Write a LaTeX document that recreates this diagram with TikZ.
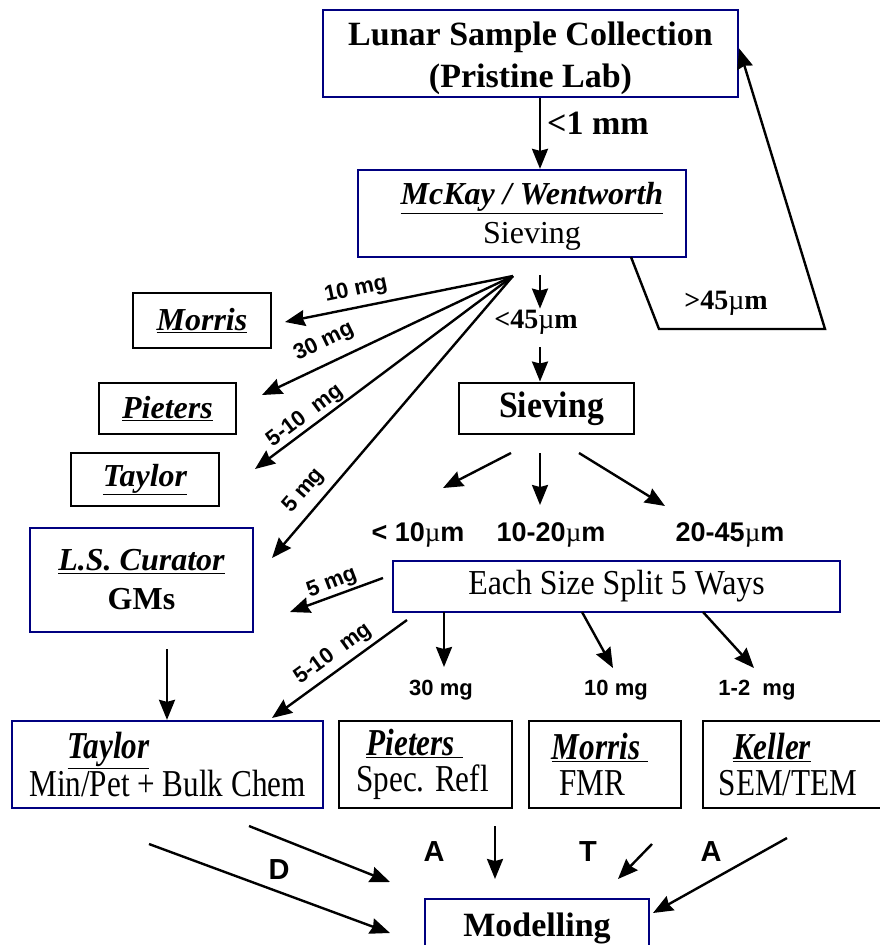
\documentclass[tikz,border=0pt]{standalone}
\usepackage{fontspec}
\setmainfont{Liberation Serif}
\setsansfont{Liberation Sans}
\newfontfamily\narrowserif[FakeStretch=0.82]{Liberation Serif}
\newfontfamily\snugserif[FakeStretch=0.91]{Liberation Serif}
\usepackage{xcolor}
\usepackage{tikz}
\usetikzlibrary{arrows.meta,positioning}
\definecolor{LabNavy}{HTML}{000080}
\definecolor{LabInk}{HTML}{000000}
\newcommand{\who}[1]{\textbf{\textit{\underline{#1}}}}
\newcommand{\um}{{\rmfamily\mdseries µ}m}
\tikzset{
  labbox/.style={draw=LabNavy,line width=2.3pt,inner sep=0pt,align=center,fill=white,font=\fontsize{32}{39}\selectfont},
  inkbox/.style={labbox,draw=LabInk,line width=2.9pt},
  rowtext/.style={minimum height=87pt,font=\narrowserif\fontsize{38}{36}\selectfont},
  flowarrow/.style={-{Stealth[length=20pt,width=16pt,inset=2pt]},line width=2.4pt,draw=LabInk},
  masslabel/.style={font=\sffamily\bfseries\fontsize{22}{24}\selectfont,inner sep=0pt},
  sizelabel/.style={font=\sffamily\bfseries\fontsize{27}{30}\selectfont,inner sep=1pt},
  cutlabel/.style={font=\bfseries\fontsize{28}{32}\selectfont,inner sep=1pt},
  routelabel/.style={font=\sffamily\bfseries\fontsize{29}{30}\selectfont,inner sep=1pt}
}

\begin{document}
\begin{tikzpicture}[x=1pt,y=-1pt]
\useasboundingbox[fill=white] (0,0) rectangle (880,945);
\node[labbox,minimum width=415pt,minimum height=87pt,font=\bfseries\fontsize{34}{42}\selectfont] (lunar) at (530.5,53.5) {\rule{0pt}{33pt}Lunar Sample Collection\\(Pristine Lab)};
\node[labbox,minimum width=328pt,minimum height=87pt] (mckay) at (522,213.5) {\rule{0pt}{28pt}\hspace*{20pt}\who{McKay / Wentworth}\\\hspace*{20pt}Sieving};
\draw[flowarrow] ([xshift=9.5pt]lunar.south) -- ([xshift=9.5pt]lunar.south |- mckay.north);
\node[cutlabel,font=\bfseries\fontsize{34}{36}\selectfont,anchor=west] (onemm) at (546,123) {<1 mm};
\coordinate (loopout) at (631,257);
\coordinate (loopfoot) at (659,329);
\coordinate (loopturn) at (825,329);
\draw[flowarrow] (loopout) -- (loopfoot) -- (loopturn) -- ([yshift=5pt]lunar.east);
\node[cutlabel] (gt45) at (726,303) {>45\um};
\node[inkbox,minimum width=138pt,minimum height=55pt] (morris) at (202,320.5) {\who{Morris}};
\node[inkbox,minimum width=137pt,minimum height=51pt] (pieters) at (167.5,408.5) {\who{Pieters}};
\node[inkbox,minimum width=148pt,minimum height=53pt] (taylor) at (145,479.5) {\who{Taylor}};
\node[labbox,minimum width=223pt,minimum height=104pt] (curator) at (141.5,580) {\who{L.S. Curator}\\\textbf{GMs}};
\coordinate (fan) at (513,276);
\coordinate (toMorris) at (285,322);
\coordinate (toPieters) at (262,395);
\coordinate (toTaylor) at (255,469);
\coordinate (toCurator) at (272,558);
\draw[flowarrow] (fan) -- (toMorris);
\draw[flowarrow] (fan) -- (toPieters);
\draw[flowarrow] (fan) -- (toTaylor);
\draw[flowarrow] (fan) -- (toCurator);
\node[masslabel,rotate=12] (w10) at (356,290) {10 mg};
\node[masslabel,rotate=26] (w30) at (324,342) {30 mg};
\node[masslabel,rotate=37] (w510) at (305,416) {5-10\ \ mg};
\node[masslabel,rotate=49] (w5) at (304,491) {5 mg};
\coordinate (below) at (540,275);
\node[cutlabel] (lt45) at (536,322) {<45\um};
\node[inkbox,minimum width=175pt,minimum height=51pt,font=\snugserif\bfseries\fontsize{37}{38}\selectfont] (sieve) at (546.5,408.5) {\hspace*{10pt}Sieving};
\draw[flowarrow] (below) -- (below |- lt45.north);
\draw[flowarrow,shorten <=12pt] (below |- lt45.south) -- (below |- sieve.north);
\coordinate (sieveL) at (511,453);
\coordinate (sieveM) at (540,453);
\coordinate (sieveR) at (579,453);
\coordinate (toFine) at (443,488);
\coordinate (toMid) at (540,505);
\coordinate (toCoarse) at (665,506);
\draw[flowarrow] (sieveL) -- (toFine);
\draw[flowarrow] (sieveM) -- (toMid);
\draw[flowarrow] (sieveR) -- (toCoarse);
\node[sizelabel] (fine) at (418,535) {< 10\um};
\node[sizelabel] (mid) at (551,535) {10-20\um};
\node[sizelabel] (coarse) at (730,535) {20-45\um};
\node[labbox,minimum width=447pt,minimum height=51pt,font=\snugserif\fontsize{35}{38}\selectfont] (split) at (616.5,586.5) {Each Size Split 5 Ways};
\coordinate (splitA) at (383,578);
\coordinate (toGM) at (290,612);
\coordinate (splitB) at (407,620);
\coordinate (toChem) at (272,718);
\coordinate (splitC) at (444,612);
\coordinate (toSpec) at (444,667);
\coordinate (splitD) at (582,612);
\coordinate (toFmr) at (613,668);
\coordinate (splitE) at (703,612);
\coordinate (toSem) at (754,668);
\draw[flowarrow] (splitA) -- (toGM);
\draw[flowarrow] (splitB) -- (toChem);
\draw[flowarrow] (splitC) -- (toSpec);
\draw[flowarrow] (splitD) -- (toFmr);
\draw[flowarrow] (splitE) -- (toSem);
\node[masslabel,rotate=21] (g5) at (332,583) {5 mg};
\node[masslabel,rotate=36] (g510) at (333,654) {5-10\ \ mg};
\node[masslabel] (m30) at (441,690) {30 mg};
\node[masslabel] (m10) at (616,690) {10 mg};
\node[masslabel] (m12) at (757,690) {1-2\ \ mg};
\node[labbox,rowtext,minimum width=311pt] (chem) at (167.5,764.5) {\who{Taylor}\hspace*{118pt}\\Min/Pet + Bulk Chem};
\node[inkbox,rowtext,minimum width=173pt] (spec) at (425.5,764.5) {\who{Pieters\ }\hspace*{22pt}\\Spec. Refl\hspace*{6pt}};
\node[inkbox,rowtext,minimum width=152pt] (fmr) at (605,764.5) {\who{Morris\ }\hspace*{10pt}\\FMR\hspace*{26pt}};
\node[inkbox,rowtext,minimum width=182pt] (sem) at (794,764.5) {\who{Keller}\hspace*{44pt}\\SEM/TEM\hspace*{12pt}};
\coordinate (gmsout) at (167,649);
\draw[flowarrow] (gmsout) -- (gmsout |- chem.north);
\node[labbox,anchor=north,minimum width=224pt,inner ysep=13pt,text height=24pt,text depth=7pt,font=\bfseries\fontsize{34}{36}\selectfont] (model) at (537,898) {Modelling};
\coordinate (outD) at (149,844);
\coordinate (inD) at (390,933);
\coordinate (outA) at (249,826);
\coordinate (inA) at (390,882);
\coordinate (outP) at (495,826);
\coordinate (inP) at (495,879);
\coordinate (outT) at (652,844);
\coordinate (inT) at (618,879);
\coordinate (outK) at (787,838);
\coordinate (inK) at (653,913);
\draw[flowarrow] (outD) -- (inD);
\draw[flowarrow] (outA) -- (inA);
\draw[flowarrow] (outP) -- (inP);
\draw[flowarrow] (outT) -- (inT);
\draw[flowarrow] (outK) -- (inK);
\node[routelabel] (rD) at (279,870) {D};
\node[routelabel] (rA) at (434,852) {A};
\node[routelabel] (rT) at (588,852) {T};
\node[routelabel] (rK) at (711,852) {A};
\end{tikzpicture}
\end{document}
